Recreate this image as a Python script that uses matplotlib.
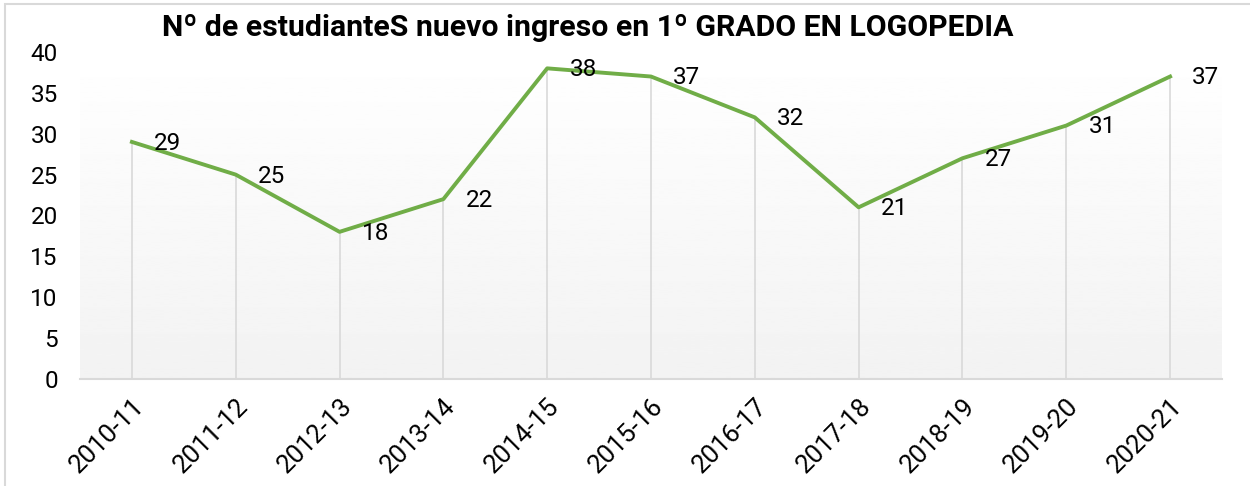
import matplotlib.pyplot as plt
import numpy as np
from matplotlib.patches import Rectangle

plt.rcParams['font.family'] = ['Roboto', 'DejaVu Sans']

cursos = ['2010-11', '2011-12', '2012-13', '2013-14', '2014-15', '2015-16',
          '2016-17', '2017-18', '2018-19', '2019-20', '2020-21']
estudiantes = [29, 25, 18, 22, 38, 37, 32, 21, 27, 31, 37]

titulo = 'Nº de estudianteS nuevo ingreso en 1º GRADO EN LOGOPEDIA'
verde = '#70AD47'

fig = plt.figure(figsize=(12.5, 4.86), dpi=100)
ax = fig.add_axes([0.064, 0.2202, 0.9136, 0.6728])

x = np.arange(len(cursos))

# fondo degradado del area de trazado
grad = np.linspace(1.0, 0.95, 256).reshape(-1, 1)
ax.imshow(grad, extent=(-0.5, len(cursos) - 0.5, 0, 40), aspect='auto',
          cmap='gray', vmin=0, vmax=1, zorder=0, origin='upper')

# lineas de proyeccion
ax.vlines(x, 0, estudiantes, colors='#d9d9d9', linewidth=1.2, zorder=1)
ax.plot(x, estudiantes, color=verde, linewidth=2.8, zorder=3,
        solid_joinstyle='round')

for xi, v in zip(x, estudiantes):
    ax.annotate(str(v), (xi, v), xytext=(16, -1), textcoords='offset points',
                ha='left', va='center', fontsize=17.5, color='black', zorder=4)

ax.set_xlim(-0.5, len(cursos) - 0.5)
ax.set_ylim(0, 40)
ax.set_yticks(range(0, 41, 5))
ax.set_xticks(x)
ax.set_xticklabels(cursos, rotation=45, ha='right', rotation_mode='anchor',
                   fontsize=18.5)
ax.tick_params(axis='y', labelsize=17.5, length=0, pad=16)
ax.tick_params(axis='x', length=0, pad=11)
for s in ['top', 'right', 'left']:
    ax.spines[s].set_visible(False)
ax.spines['bottom'].set_color('#d9d9d9')
ax.spines['bottom'].set_linewidth(1.5)

fig.text(0.47, 0.942, titulo, ha='center', va='center', fontsize=21.8,
         fontweight='bold')

fig.patches.append(Rectangle((5 / 1250, -0.1), 1.2, 1.1 - 4 / 486 + 0.0,
                             transform=fig.transFigure, fill=False,
                             edgecolor='#d9d9d9', linewidth=1.5))

fig.savefig('out.png', dpi=100)
